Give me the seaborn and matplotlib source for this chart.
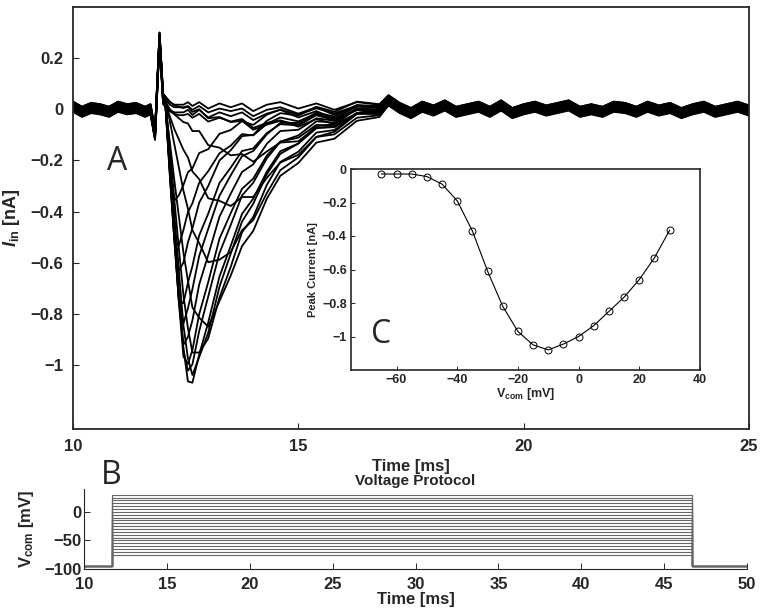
import numpy as np
import pandas as pd
import matplotlib
matplotlib.use("Agg")
from matplotlib import pyplot as plt
from matplotlib.ticker import FuncFormatter
import seaborn as sns

# ---- panel A: membrane current traces, time grid [ms] ----
t_pre = [10.0, 10.2, 10.4, 10.6, 10.8, 11.0, 11.2, 11.4, 11.6, 11.72, 11.82, 11.92, 12.0]
t_act = [12.05, 12.15, 12.25, 12.35, 12.45, 12.55, 12.65, 12.8, 13.0, 13.25,
         13.5, 13.75, 14.0, 14.3, 14.6, 15.0, 15.4, 15.8, 16.3, 16.8]
t_post = [17.0, 17.25, 17.5, 17.75, 18.0, 18.25, 18.5, 18.75, 19.0, 19.25, 19.5,
          19.75, 20.0, 20.25, 20.5, 20.75, 21.0, 21.25, 21.5, 21.75, 22.0, 22.25,
          22.5, 22.75, 23.0, 23.25, 23.5, 23.75, 24.0, 24.25, 24.5, 24.75, 25.0]

# common baseline wiggle + capacitive artifact [nA]
base_pre = [0.01, -0.01, 0.005, 0.0, -0.01, 0.01, 0.0, 0.005, -0.01, 0.0, -0.10, 0.28, 0.04]
base_act = [0.03, 0.01, 0.0, 0.0, 0.0, 0.01, -0.005, 0.015, -0.01, 0.01,
            0.0, 0.015, -0.015, 0.01, 0.02, -0.01, 0.01, -0.02, 0.01, 0.0]
base_post = [0.035, 0.005, -0.015, 0.01, -0.005, 0.015, -0.01, 0.0, 0.01, -0.01, 0.015,
             -0.015, 0.0, 0.01, -0.005, 0.005, 0.015, -0.01, 0.0, -0.01, 0.01, 0.005,
             -0.01, 0.01, -0.005, 0.005, -0.015, 0.0, 0.01, -0.01, 0.0, 0.01, -0.005]

# sodium current of each step (on t_act) [nA]
cur_m65 = [0, 0, 0, 0, 0, 0, 0, -0.005, -0.005, -0.005, -0.01, -0.01, -0.01, -0.01, -0.01, -0.005, -0.005, 0, 0, 0]
cur_m60 = [0, 0, 0, 0, 0, 0, -0.005, -0.005, -0.01, -0.01, -0.015, -0.015, -0.015, -0.015, -0.01, -0.01, -0.005, -0.005, 0, 0]
cur_m55 = [0, 0, 0, 0, 0, -0.005, -0.005, -0.01, -0.01, -0.015, -0.015, -0.02, -0.02, -0.02, -0.02, -0.015, -0.01, -0.01, -0.005, 0]
cur_m50 = [0, 0, 0, -0.005, -0.005, -0.01, -0.01, -0.015, -0.02, -0.025, -0.03, -0.035, -0.04, -0.045, -0.045, -0.04, -0.03, -0.02, -0.01, 0]
cur_m45 = [0, 0, -0.005, -0.01, -0.015, -0.02, -0.025, -0.035, -0.045, -0.06, -0.07, -0.08, -0.085, -0.09, -0.085, -0.07, -0.05, -0.035, -0.02, -0.005]
cur_m40 = [0, -0.01, -0.02, -0.035, -0.05, -0.065, -0.08, -0.1, -0.13, -0.16, -0.18, -0.19, -0.19, -0.175, -0.15, -0.115, -0.08, -0.05, -0.025, -0.01]
cur_m35 = [0, -0.03, -0.07, -0.11, -0.15, -0.19, -0.23, -0.28, -0.33, -0.36, -0.37, -0.35, -0.32, -0.27, -0.22, -0.16, -0.11, -0.07, -0.035, -0.015]
cur_m30 = [0, -0.07, -0.15, -0.24, -0.33, -0.41, -0.48, -0.55, -0.6, -0.61, -0.57, -0.5, -0.43, -0.35, -0.27, -0.19, -0.13, -0.08, -0.04, -0.015]
cur_m25 = [0, -0.12, -0.26, -0.4, -0.54, -0.66, -0.75, -0.81, -0.82, -0.74, -0.63, -0.53, -0.44, -0.34, -0.26, -0.18, -0.12, -0.075, -0.035, -0.01]
cur_m20 = [0, -0.17, -0.36, -0.55, -0.73, -0.87, -0.95, -0.97, -0.89, -0.75, -0.62, -0.5, -0.41, -0.31, -0.23, -0.16, -0.105, -0.065, -0.03, -0.01]
cur_m15 = [0, -0.21, -0.43, -0.65, -0.86, -1.0, -1.05, -1.0, -0.88, -0.72, -0.58, -0.47, -0.37, -0.28, -0.21, -0.14, -0.09, -0.055, -0.025, -0.005]
cur_m10 = [0, -0.23, -0.47, -0.71, -0.93, -1.07, -1.06, -0.97, -0.82, -0.66, -0.53, -0.42, -0.33, -0.25, -0.18, -0.12, -0.08, -0.045, -0.02, 0]
cur_m5 = [0, -0.24, -0.48, -0.73, -0.95, -1.04, -1.0, -0.89, -0.73, -0.58, -0.46, -0.36, -0.28, -0.21, -0.155, -0.1, -0.065, -0.04, -0.015, 0]
cur_0 = [0, -0.24, -0.49, -0.74, -0.95, -0.99, -0.92, -0.8, -0.65, -0.5, -0.39, -0.31, -0.24, -0.175, -0.13, -0.085, -0.055, -0.03, -0.01, 0]
cur_p5 = [0, -0.25, -0.5, -0.75, -0.92, -0.9, -0.82, -0.7, -0.56, -0.43, -0.33, -0.26, -0.2, -0.145, -0.105, -0.07, -0.045, -0.025, -0.01, 0]
cur_p10 = [0, -0.25, -0.5, -0.75, -0.85, -0.8, -0.71, -0.6, -0.47, -0.36, -0.27, -0.21, -0.16, -0.12, -0.085, -0.055, -0.035, -0.02, -0.005, 0]
cur_p15 = [0, -0.26, -0.51, -0.74, -0.75, -0.68, -0.6, -0.5, -0.39, -0.29, -0.22, -0.17, -0.13, -0.095, -0.07, -0.045, -0.025, -0.015, -0.005, 0]
cur_p20 = [0, -0.26, -0.51, -0.65, -0.62, -0.55, -0.48, -0.4, -0.31, -0.23, -0.18, -0.14, -0.105, -0.075, -0.055, -0.035, -0.02, -0.01, 0, 0]
cur_p25 = [0, -0.26, -0.5, -0.52, -0.46, -0.4, -0.35, -0.29, -0.22, -0.17, -0.13, -0.1, -0.075, -0.055, -0.04, -0.025, -0.015, -0.005, 0, 0]
cur_p30 = [0, -0.25, -0.36, -0.34, -0.3, -0.26, -0.23, -0.19, -0.15, -0.11, -0.085, -0.065, -0.05, -0.035, -0.025, -0.015, -0.01, 0, 0, 0]

# spread of the traces around the baseline [nA]
trace_offset = [0.018, -0.012, 0.008, -0.018, 0.02, 0.0, -0.008, 0.012, -0.02, 0.004,
                0.016, -0.004, 0.008, -0.016, 0.0, 0.012, -0.008, 0.02, -0.012, 0.004]

# ---- panel C: I-V curve ----
v_com = [-65, -60, -55, -50, -45, -40, -35, -30, -25, -20, -15, -10, -5, 0, 5, 10, 15, 20, 25, 30]
peak_current = [-0.03, -0.03, -0.03, -0.045, -0.09, -0.19, -0.37, -0.61, -0.82, -0.97,
                -1.05, -1.08, -1.045, -1.0, -0.935, -0.85, -0.765, -0.66, -0.53, -0.365]

# ---- panel B: voltage protocol ----
prot_v = [-75, -70, -65, -60, -55, -50, -45, -40, -35, -30, -25, -20, -15, -10, -5,
          0, 5, 10, 15, 20, 25, 30]
hold_v = -95
step_on = 11.7
step_off = 46.7

currents = [cur_m65, cur_m60, cur_m55, cur_m50, cur_m45, cur_m40, cur_m35, cur_m30,
            cur_m25, cur_m20, cur_m15, cur_m10, cur_m5, cur_0, cur_p5, cur_p10,
            cur_p15, cur_p20, cur_p25, cur_p30]

t_all = np.array(t_pre + t_act + t_post)
base = np.array(base_pre + base_act + base_post)
rows = []
for v, cur, off in zip(v_com, currents, trace_offset):
    full = np.concatenate([np.zeros(len(t_pre)), cur, np.zeros(len(t_post))])
    vals = base + full + off
    for t, i in zip(t_all, vals):
        rows.append((v, t, i))
df_a = pd.DataFrame(rows, columns=["V", "t", "I"])

rows = []
for v in prot_v:
    for t, y in zip([10, step_on, step_on, step_off, step_off, 50],
                    [hold_v, hold_v, v, v, hold_v, hold_v]):
        rows.append((v, t, y))
df_b = pd.DataFrame(rows, columns=["V", "t", "Vm"])

sns.set_style("ticks")
plt.rcParams["font.family"] = ["Liberation Sans", "DejaVu Sans"]
plt.rcParams["font.weight"] = "bold"
plt.rcParams["axes.labelweight"] = "bold"
plt.rcParams["mathtext.fontset"] = "custom"
plt.rcParams["mathtext.rm"] = "Liberation Sans:bold"
plt.rcParams["mathtext.it"] = "Liberation Sans:italic:bold"
plt.rcParams["mathtext.bf"] = "Liberation Sans:bold"
plt.rcParams["xtick.direction"] = "in"
plt.rcParams["ytick.direction"] = "in"


def fmt(v, pos):
    if abs(v) < 1e-9:
        return "0"
    return f"{v:g}".replace("-", "\u2212")


W, H = 761, 616
fig = plt.figure(figsize=(W / 100, H / 100), dpi=100)


def box(x0, y0, x1, y1):
    return [x0 / W, 1 - y1 / H, (x1 - x0) / W, (y1 - y0) / H]


# main panel A
ax = fig.add_axes(box(73, 7, 749, 429))
sns.lineplot(data=df_a, x="t", y="I", units="V", estimator=None, color="k",
             lw=1.3, ax=ax, legend=False)
ax.set_xlim(10, 25)
ax.set_ylim(-1.25, 0.4)
ax.set_xticks([10, 15, 20, 25])
ax.set_yticks([-1, -0.8, -0.6, -0.4, -0.2, 0, 0.2])
ax.yaxis.set_major_formatter(FuncFormatter(fmt))
ax.tick_params(labelsize=12, length=4, width=0.8, pad=7)
ax.set_xlabel("Time [ms]", fontsize=12, labelpad=4)
ax.set_ylabel(r"$I_{\mathrm{in}}$ [nA]", fontsize=13, labelpad=6)
for s in ax.spines.values():
    s.set_linewidth(1.3)

# inset C
axc = fig.add_axes(box(351, 169, 700, 370))
sns.lineplot(x=v_com, y=peak_current, color="k", lw=0.8, marker="o", markersize=5,
             markerfacecolor="none", markeredgecolor="k", markeredgewidth=0.7,
             ax=axc)
axc.set_xlim(-75, 40)
axc.set_ylim(-1.2, 0)
axc.set_xticks([-60, -40, -20, 0, 20, 40])
axc.set_yticks([-1, -0.8, -0.6, -0.4, -0.2, 0])
axc.xaxis.set_major_formatter(FuncFormatter(fmt))
axc.yaxis.set_major_formatter(FuncFormatter(fmt))
axc.tick_params(labelsize=9, length=3, width=0.7, pad=3)
axc.set_xlabel(r"$\mathrm{V}_{\mathrm{com}}$ [mV]", fontsize=9, labelpad=0)
axc.set_ylabel("Peak Current [nA]", fontsize=8, labelpad=3)
for s in axc.spines.values():
    s.set_linewidth(1.2)

# bottom panel B
axb = fig.add_axes(box(84, 489, 747, 569))
sns.lineplot(data=df_b, x="t", y="Vm", units="V", estimator=None, sort=False,
             color="0.4", lw=0.8, ax=axb, legend=False)
axb.set_xlim(10, 50)
axb.set_ylim(-100, 40)
axb.set_xticks([10, 15, 20, 25, 30, 35, 40, 45, 50])
axb.set_yticks([-100, -50, 0])
axb.yaxis.set_major_formatter(FuncFormatter(fmt))
axb.tick_params(axis="y", labelsize=12, length=4, width=0.7, pad=2)
axb.tick_params(axis="x", labelsize=12, length=4, width=0.7, pad=6)
axb.set_xlabel("Time [ms]", fontsize=12, labelpad=0)
axb.set_ylabel(r"$\mathrm{V}_{\mathrm{com}}$ [mV]", fontsize=12, labelpad=6)
axb.set_title("Voltage Protocol", fontsize=11, fontweight="bold", pad=3)
sns.despine(ax=axb)

# panel letters
for lab, x, y in [("A", 117, 162), ("C", 381, 335), ("B", 111, 475)]:
    fig.text(x / W, 1 - y / H, lab, fontsize=23, fontweight="normal",
             family=["Open Sans", "DejaVu Sans"], ha="center", va="center")

fig.savefig("out.png", dpi=100)
